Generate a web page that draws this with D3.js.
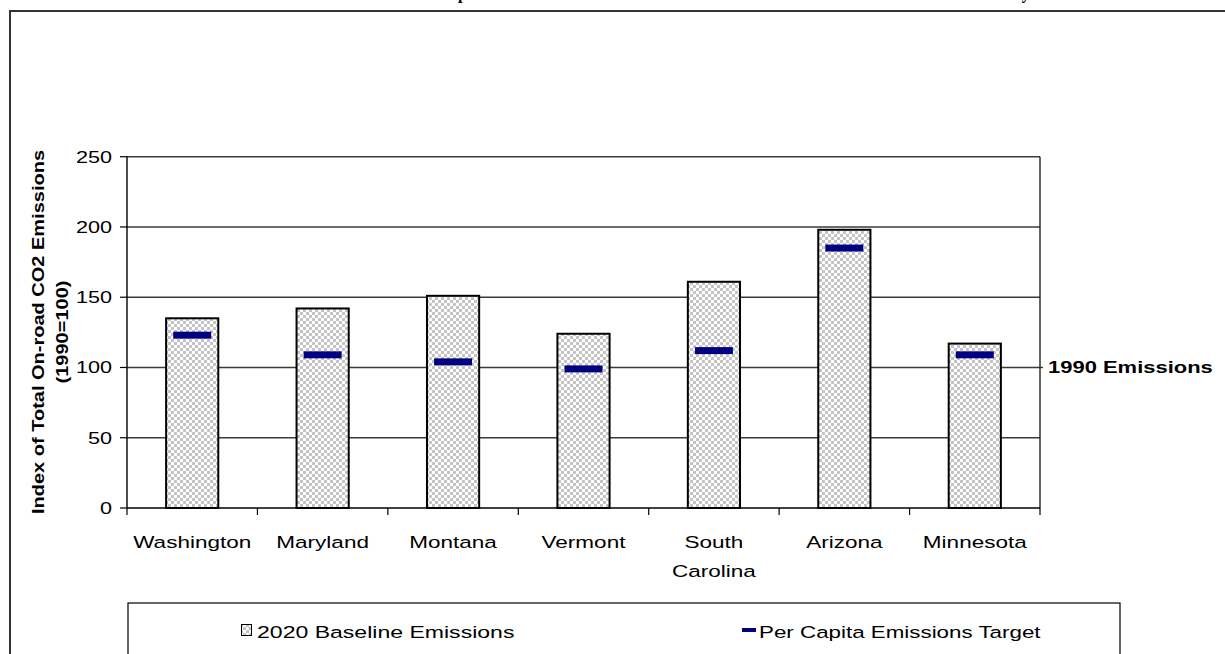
<!DOCTYPE html>
<html>
<head>
<meta charset="utf-8">
<script src="https://cdn.jsdelivr.net/npm/d3@7"></script>
<style>
  body { margin: 0; background: #fff; }
  text { font-family: Arial, "Liberation Sans", sans-serif; fill: #000; }
</style>
</head>
<body>
<svg id="chart" width="1225" height="654"></svg>
<script>
// ---- data ----
const states = ["Washington", "Maryland", "Montana", "Vermont", "South Carolina", "Arizona", "Minnesota"];
const stateLabelLines = [["Washington"], ["Maryland"], ["Montana"], ["Vermont"], ["South", "Carolina"], ["Arizona"], ["Minnesota"]];
const baseline2020 = [135, 142, 151, 124, 161, 198, 117];
const perCapitaTarget = [123, 109, 104, 99, 112, 185, 109];
const yTicks = [0, 50, 100, 150, 200, 250];
const referenceLevel = 100;
const referenceLabel = "1990 Emissions";
const legendLabels = ["2020 Baseline Emissions", "Per Capita Emissions Target"];
const yTitleLines = ["Index of Total On-road CO2 Emissions", "(1990=100)"];
const titleText = "Comparison of 2020 Baseline On-road CO2 Emissions Index Relative to 1990 Levels by State";

// ---- layout ----
const svg = d3.select("#chart");
const plot = { left: 127, right: 1040, top: 156.7, bottom: 508 };
const SX = 1.32;           // horizontal widening applied to chart text
const FONT = 16.4;

const x = d3.scaleBand().domain(states)
  .range([plot.left, plot.right]).paddingInner(0.6).paddingOuter(0.3);
const y = d3.scaleLinear().domain([0, 250]).range([plot.bottom, plot.top]);
const step = x.step();

// checkered fill for the baseline bars
const defs = svg.append("defs");
const pat = defs.append("pattern").attr("id", "checks")
  .attr("patternUnits", "userSpaceOnUse").attr("width", 6).attr("height", 6);
pat.append("rect").attr("width", 6).attr("height", 6).attr("fill", "#ffffff");
pat.append("rect").attr("width", 3).attr("height", 3).attr("fill", "#c4c4c4");
pat.append("rect").attr("x", 3).attr("y", 3).attr("width", 3).attr("height", 3).attr("fill", "#c4c4c4");

// outer chart frame
svg.append("rect").attr("x", 10).attr("y", 11).attr("width", 1400).attr("height", 800)
  .attr("fill", "none").attr("stroke", "#333").attr("stroke-width", 2);

// title (sits above the frame, only its descenders reach into view)
const title = svg.append("text").attr("x", 0).attr("y", -2)
  .style("font-family", "'Liberation Serif', 'Times New Roman', serif")
  .style("font-weight", "bold").style("font-size", "20px").text(titleText);
{
  const node = title.node();
  const pIdx = titleText.indexOf("p");
  const yIdx = titleText.lastIndexOf("by") + 1;
  const p0 = node.getStartPositionOfChar(pIdx).x;
  const y0 = node.getStartPositionOfChar(yIdx).x;
  const k = (1022 - 458) / (y0 - p0);
  title.attr("transform", `translate(${458 - p0 * k},0) scale(${k},1)`);
}

// stretched text helper
function stext(g, tx, ty, str, anchor, opts = {}) {
  return g.append("text")
    .attr("transform", `translate(${tx},${ty}) scale(${opts.sx || SX},1)`)
    .attr("text-anchor", anchor)
    .style("font-size", (opts.size || FONT) + "px")
    .style("font-weight", opts.bold ? "bold" : "normal")
    .text(str);
}

// horizontal gridlines
svg.append("g").selectAll("line").data(yTicks.filter(d => d > 0)).join("line")
  .attr("x1", plot.left).attr("x2", plot.right)
  .attr("y1", d => y(d)).attr("y2", d => y(d))
  .attr("stroke", "#3a3a3a").attr("stroke-width", 1.4);

// reference line stub and label
svg.append("line").attr("x1", plot.right).attr("x2", plot.right + 3)
  .attr("y1", y(referenceLevel)).attr("y2", y(referenceLevel))
  .attr("stroke", "#3a3a3a").attr("stroke-width", 1.4);
stext(svg, 1048, y(referenceLevel) + 6, referenceLabel, "start", { bold: true, sx: 1.34 });

// plot border (right side)
svg.append("line").attr("x1", plot.right).attr("x2", plot.right)
  .attr("y1", plot.top).attr("y2", plot.bottom).attr("stroke", "#222").attr("stroke-width", 1.4);

// baseline bars
svg.append("g").selectAll("rect").data(states).join("rect")
  .attr("x", d => x(d)).attr("width", x.bandwidth())
  .attr("y", (d, i) => y(baseline2020[i]))
  .attr("height", (d, i) => y(0) - y(baseline2020[i]))
  .attr("fill", "url(#checks)").attr("stroke", "#000").attr("stroke-width", 2);

// per-capita target markers
const dashW = 38, dashH = 7;
svg.append("g").selectAll("rect").data(states).join("rect")
  .attr("x", d => x(d) + x.bandwidth() / 2 - dashW / 2).attr("width", dashW)
  .attr("y", (d, i) => y(perCapitaTarget[i]) - dashH / 2).attr("height", dashH)
  .attr("fill", "#000080");

// y axis
const yAxis = svg.append("g");
yAxis.append("line").attr("x1", plot.left).attr("x2", plot.left)
  .attr("y1", plot.top).attr("y2", plot.bottom).attr("stroke", "#000").attr("stroke-width", 1.4);
yAxis.selectAll("line.tick").data(yTicks).join("line").attr("class", "tick")
  .attr("x1", plot.left - 7).attr("x2", plot.left)
  .attr("y1", d => y(d)).attr("y2", d => y(d)).attr("stroke", "#000").attr("stroke-width", 1.2);
yTicks.forEach(d => stext(yAxis, 112, y(d) + 6, String(d), "end"));

// x axis
const xAxis = svg.append("g");
xAxis.append("line").attr("x1", plot.left).attr("x2", plot.right)
  .attr("y1", plot.bottom).attr("y2", plot.bottom).attr("stroke", "#000").attr("stroke-width", 1.4);
xAxis.selectAll("line.tick").data(d3.range(states.length + 1)).join("line").attr("class", "tick")
  .attr("x1", i => plot.left + i * step).attr("x2", i => plot.left + i * step)
  .attr("y1", plot.bottom).attr("y2", plot.bottom + 7).attr("stroke", "#000").attr("stroke-width", 1.2);
states.forEach((s, i) => {
  stateLabelLines[i].forEach((line, j) => {
    stext(xAxis, x(s) + x.bandwidth() / 2, 548 + j * 29, line, "middle", { size: 16.8, sx: 1.34 });
  });
});

// y axis title
const yt = svg.append("g");
[[38, yTitleLines[0], 1.22], [62, yTitleLines[1], 1.22]].forEach(([tx, str, k]) => {
  yt.append("text")
    .attr("transform", `translate(${tx + 6},332) rotate(-90) scale(${k},1)`)
    .attr("text-anchor", "middle")
    .style("font-size", "16.4px").style("font-weight", "bold")
    .text(str);
});

// legend
const lg = svg.append("g");
lg.append("rect").attr("x", 128).attr("y", 603).attr("width", 992).attr("height", 120)
  .attr("fill", "#fff").attr("stroke", "#000").attr("stroke-width", 1.2);
lg.append("rect").attr("x", 241.5).attr("y", 624.5).attr("width", 10).attr("height", 11)
  .attr("fill", "url(#checks)").attr("stroke", "#000").attr("stroke-width", 1);
stext(lg, 257, 638, legendLabels[0], "start", { size: 17.2, sx: 1.34 });
lg.append("rect").attr("x", 742).attr("y", 628).attr("width", 14).attr("height", 4)
  .attr("fill", "#000080");
stext(lg, 759, 638, legendLabels[1], "start", { size: 17.2, sx: 1.3 });
</script>
</body>
</html>
